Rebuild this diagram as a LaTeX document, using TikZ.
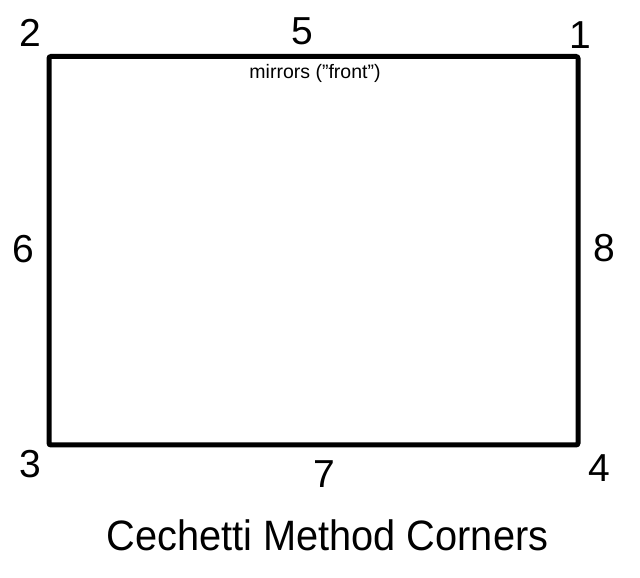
\documentclass[tikz,border=0pt]{standalone}
\usepackage{fontspec}
\setmainfont{Liberation Sans}
\begin{document}
\begin{tikzpicture}[x=1pt,y=1pt,
  digit/.style={inner sep=0pt,anchor=base,font=\fontsize{39}{39}\selectfont},
  note/.style={inner sep=0pt,anchor=base,font=\fontsize{19.5}{19.5}\selectfont},
  title/.style={inner sep=0pt,anchor=base,xscale=0.935,font=\fontsize{42.5}{42.5}\selectfont},
  frame/.style={draw=black,line width=5pt,rounded corners=2pt}]
\useasboundingbox (0,0) rectangle (640,578);
\coordinate (tl) at (49,521.5);
\coordinate (br) at (578,133);
\draw[frame] (tl) rectangle (br);
\node[digit] (n2) at (30.5,578-46.7) {2};
\node[digit] (n1) at (580.5,578-48.3) {1};
\node[digit] (n5) at (302.5,578-44.8) {5};
\node[digit] (n6) at (23,578-262.5) {6};
\node[digit] (n8) at (604,578-261.5) {8};
\node[digit] (n3) at (30.7,578-477.5) {3};
\node[digit] (n4) at (599,578-482) {4};
\node[digit] (n7) at (324,578-488) {7};
\node[note] (m) at (315,578-78.5) {mirrors ("front")};
\node[title] (t) at (327.5,578-551) {Cechetti Method Corners};
\end{tikzpicture}
\end{document}
